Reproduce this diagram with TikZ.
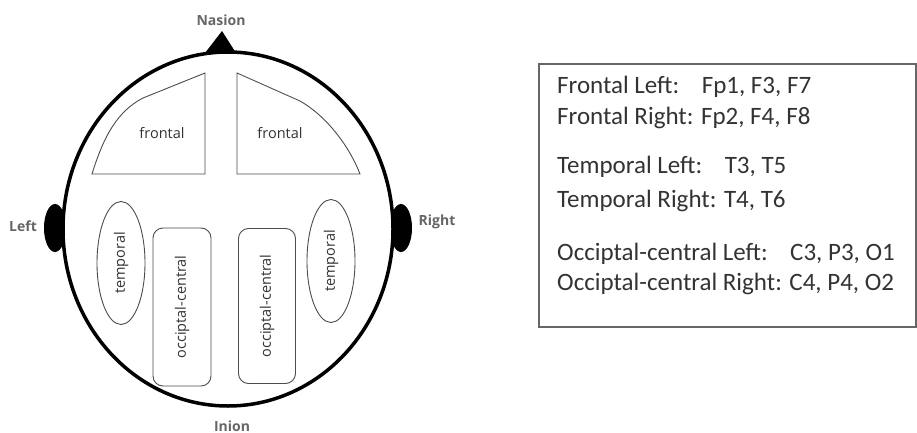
\documentclass[tikz,border=0pt]{standalone}
\usepackage{fontspec}
\setmainfont{Carlito}
\newfontfamily\regfont{Open Sans}
\usetikzlibrary{shapes.geometric}
\begin{document}
\begin{tikzpicture}[x=1pt,y=-1pt,
  region/.style={draw=black!70,line width=0.9pt},
  regtext/.style={font=\regfont\fontsize{14.5}{16}\selectfont,text=black!80},
  headlab/.style={font=\regfont\bfseries\fontsize{14}{16}\selectfont,text=black!60},
  legline/.style={anchor=west,font=\fontsize{25}{27}\selectfont,text=black!80,inner sep=0pt}]
\useasboundingbox (0,0) rectangle (917,433);
% ears
\fill[black] (55,228) ellipse [x radius=11,y radius=24];
\fill[black] (401,228) ellipse [x radius=11,y radius=24];
% nasion
\fill[black] (205,53) -- (222,31) -- (236,53) -- cycle;
% head
\draw[line width=3.5pt,fill=white] (228,229) ellipse [x radius=165,y radius=177];
% frontal regions
\draw[region] (205,73) -- (205,174) -- (92,174) .. controls (104,135) and (118,111) .. (143,98) -- cycle;
\draw[region] (237,73) -- (300,101) .. controls (328,117) and (350,148) .. (360,174) -- (237,174) -- cycle;
\node[regtext] (fl) at (162,133) {frontal};
\node[regtext] (fr) at (280,133) {frontal};
% temporal
\node[region,ellipse,minimum width=48pt,minimum height=123pt,inner sep=0pt] (tl) at (121,263) {};
\node[regtext,rotate=90] at (tl.center) {temporal};
\node[region,ellipse,minimum width=48pt,minimum height=123pt,inner sep=0pt] (tr) at (331,261) {};
\node[regtext,rotate=90] at (tr.center) {temporal};
% occipital-central
\node[region,rectangle,rounded corners=10pt,minimum width=58pt,minimum height=158pt,inner sep=0pt] (ocl) at (182,307) {};
\node[regtext,rotate=90] at (ocl.center) {occiptal-central};
\node[region,rectangle,rounded corners=10pt,minimum width=57pt,minimum height=155pt,inner sep=0pt] (ocr) at (267,306) {};
\node[regtext,rotate=90] at (ocr.center) {occiptal-central};
% head labels
\node[headlab] (nasion) at (221,20) {Nasion};
\node[headlab] (left) at (23,226) {Left};
\node[headlab] (right) at (437,222) {Right};
\node[headlab] (inion) at (232,426) {Inion};
% legend
\draw[draw=black!60,line width=1.3pt] (539,64) rectangle (916,327);
\node[legline] (l1) at (557,87) {Frontal Left:\hspace{0.9em}Fp1, F3, F7};
\node[legline] (l2) at (557,118) {Frontal Right: Fp2, F4, F8};
\node[legline] (l3) at (557,167) {Temporal Left:\hspace{0.9em}T3, T5};
\node[legline] (l4) at (557,201) {Temporal Right: T4, T6};
\node[legline] (l5) at (557,254) {Occiptal-central Left:\hspace{0.9em}C3, P3, O1};
\node[legline] (l6) at (557,284) {Occiptal-central Right: C4, P4, O2};
\end{tikzpicture}
\end{document}
